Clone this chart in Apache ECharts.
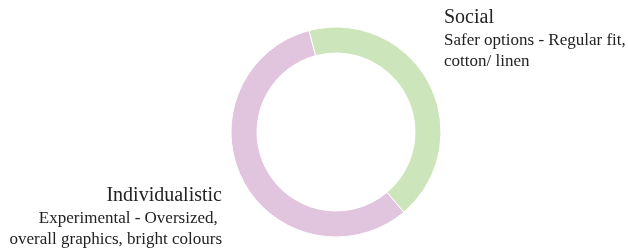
<!DOCTYPE html>
<html>
<head>
<meta charset="utf-8">
<script src="https://cdn.jsdelivr.net/npm/echarts@6/dist/echarts.min.js"></script>
<style>
  html, body { margin: 0; padding: 0; background: #fff; }
  #chart { width: 628px; height: 250px; }
</style>
</head>
<body>
<div id="chart"></div>
<script>
// dados do gráfico
const categorias = ['Social', 'Individualistic'];
const descricoes = ['Safer options - Regular fit,\ncotton/ linen', 'Experimental - Oversized, \noverall graphics, bright colours'];
const valores = [43, 57];
const cores = ['#cde5bb', '#e1c4de'];

var grafico = echarts.init(document.getElementById('chart'));

var opcoes = {
  animation: false,
  series: [{
    type: 'pie',
    center: [336, 132],
    radius: [79, 105],
    startAngle: 105,
    clockwise: true,
    data: categorias.map((nome, i) => ({
      name: nome,
      value: valores[i],
      itemStyle: { color: cores[i] },
      label: {
        rich: {
          t: { fontFamily: 'Liberation Serif', fontSize: 20, color: '#222', lineHeight: 25, align: i === 0 ? 'left' : 'right' },
          s: { fontFamily: 'Liberation Serif', fontSize: 17, color: '#222', lineHeight: 21, align: i === 0 ? 'left' : 'right' }
        }
      }
    })),
    itemStyle: { borderColor: '#fff', borderWidth: 1 },
    label: {
      show: true,
      overflow: 'none',
      formatter: p => '{t|' + p.name + '}\n' + descricoes[p.dataIndex].split('\n').map(l => '{s|' + l + '}').join('\n')
    },
    labelLine: { show: false },
    labelLayout: function (params) {
      // posições fixas dos rótulos
      if (params.dataIndex === 0) {
        return { x: 444, y: 5, align: 'left', verticalAlign: 'top' };
      }
      return { x: 222, y: 183, align: 'right', verticalAlign: 'top' };
    },
    emphasis: { disabled: true }
  }]
};

grafico.setOption(opcoes);
window.addEventListener('resize', () => grafico.resize());
</script>
</body>
</html>
